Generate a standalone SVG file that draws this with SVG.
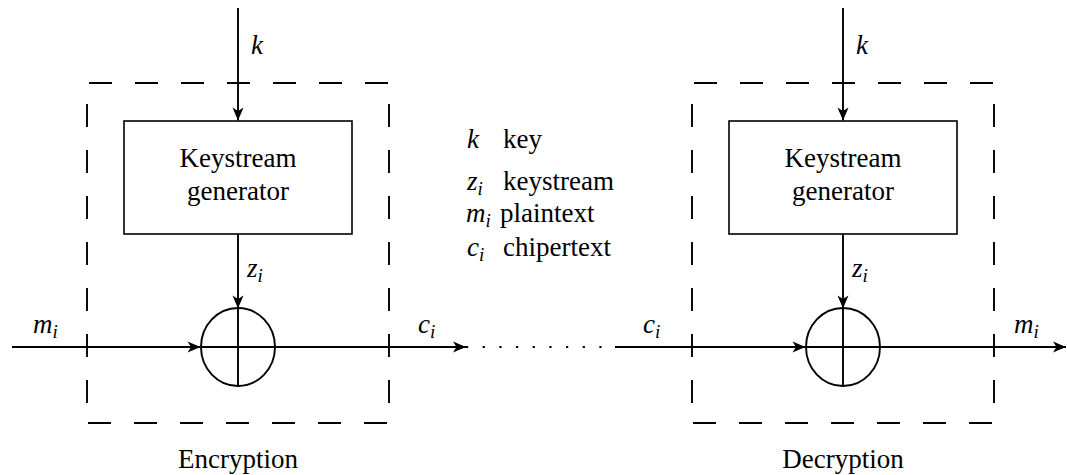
<svg xmlns="http://www.w3.org/2000/svg" width="1067" height="475" viewBox="0 0 1067 475">
<defs>
<marker id="ah" markerUnits="userSpaceOnUse" viewBox="-14 -7 15 14" refX="0" refY="0" markerWidth="15" markerHeight="14" orient="auto">
<path d="M0,0 L-13,-5.5 L-9.5,0 L-13,5.5 Z" fill="#000"/>
</marker>
</defs>
<g id="enc-frame" stroke="#000" stroke-width="1.9" stroke-dasharray="23 23" fill="none">
<line x1="89" y1="83" x2="388" y2="83"/>
<line x1="88" y1="423" x2="387" y2="423"/>
<line x1="87" y1="104" x2="87" y2="403"/>
<line x1="389" y1="104" x2="389" y2="403"/>
</g>
<g id="dec-frame" stroke="#000" stroke-width="1.9" stroke-dasharray="23 23" fill="none">
<line x1="694" y1="83" x2="993" y2="83"/>
<line x1="693" y1="423" x2="992" y2="423"/>
<line x1="692" y1="104" x2="692" y2="403"/>
<line x1="994" y1="104" x2="994" y2="403"/>
</g>
<text id="enc-label" font-family="Liberation Serif" font-size="27" x="238" y="468" text-anchor="middle">Encryption</text>
<text id="dec-label" font-family="Liberation Serif" font-size="27" x="843" y="468" text-anchor="middle">Decryption</text>
<g id="connectors" stroke="#000" stroke-width="1.9" fill="none">
<line x1="238" y1="8" x2="238" y2="120.5" marker-end="url(#ah)"/>
<line x1="238" y1="234" x2="238" y2="308.5" marker-end="url(#ah)"/>
<line x1="12" y1="347" x2="200.5" y2="347" marker-end="url(#ah)"/>
<line x1="275" y1="347" x2="466" y2="347" marker-end="url(#ah)"/>
<line stroke-width="2.2" stroke-dasharray="2.2 14.47" x1="466" y1="347" x2="603" y2="347"/>
<line x1="615" y1="347" x2="805.5" y2="347" marker-end="url(#ah)"/>
<line x1="880" y1="347" x2="1066" y2="347" marker-end="url(#ah)"/>
<line x1="843" y1="8" x2="843" y2="120.5" marker-end="url(#ah)"/>
<line x1="843" y1="234" x2="843" y2="308.5" marker-end="url(#ah)"/>
</g>
<g id="connector-labels">
<text font-family="Liberation Serif" font-size="27" font-style="italic" x="251" y="54">k</text>
<text font-family="Liberation Serif" font-size="27" font-style="italic" x="247" y="277">z<tspan font-size="19" dy="5">i</tspan></text>
<text font-family="Liberation Serif" font-size="27" font-style="italic" x="33" y="333">m<tspan font-size="19" dy="5">i</tspan></text>
<text font-family="Liberation Serif" font-size="27" font-style="italic" x="418" y="333">c<tspan font-size="19" dy="5">i</tspan></text>
<text font-family="Liberation Serif" font-size="27" font-style="italic" x="856" y="54">k</text>
<text font-family="Liberation Serif" font-size="27" font-style="italic" x="852" y="277">z<tspan font-size="19" dy="5">i</tspan></text>
<text font-family="Liberation Serif" font-size="27" font-style="italic" x="643" y="333">c<tspan font-size="19" dy="5">i</tspan></text>
<text font-family="Liberation Serif" font-size="27" font-style="italic" x="1014" y="333">m<tspan font-size="19" dy="5">i</tspan></text>
</g>
<g id="enc-keygen">
<rect x="124" y="121" width="228" height="113" fill="#fff" stroke="#000" stroke-width="1.6"/>
<text font-family="Liberation Serif" font-size="27" x="238" y="167" text-anchor="middle">Keystream</text>
<text font-family="Liberation Serif" font-size="27" x="238" y="200" text-anchor="middle">generator</text>
</g>
<g id="enc-xor" stroke="#000" stroke-width="1.9" fill="none">
<ellipse cx="238" cy="347" rx="37" ry="39"/>
<line x1="238" y1="308" x2="238" y2="386"/>
<line x1="201" y1="347" x2="275" y2="347"/>
</g>
<g id="dec-keygen">
<rect x="729" y="121" width="228" height="113" fill="#fff" stroke="#000" stroke-width="1.6"/>
<text font-family="Liberation Serif" font-size="27" x="843" y="167" text-anchor="middle">Keystream</text>
<text font-family="Liberation Serif" font-size="27" x="843" y="200" text-anchor="middle">generator</text>
</g>
<g id="dec-xor" stroke="#000" stroke-width="1.9" fill="none">
<ellipse cx="843" cy="347" rx="37" ry="39"/>
<line x1="843" y1="308" x2="843" y2="386"/>
<line x1="806" y1="347" x2="880" y2="347"/>
</g>
<g id="legend">
<text font-family="Liberation Serif" font-size="27" font-style="italic" x="467" y="148">k</text>
<text font-family="Liberation Serif" font-size="27" x="503" y="148">key</text>
<text font-family="Liberation Serif" font-size="27" font-style="italic" x="467" y="190">z<tspan font-size="19" dy="5">i</tspan></text>
<text font-family="Liberation Serif" font-size="27" x="503" y="190">keystream</text>
<text font-family="Liberation Serif" font-size="27" font-style="italic" x="466" y="222">m<tspan font-size="19" dy="5">i</tspan></text>
<text font-family="Liberation Serif" font-size="27" x="500" y="222">plaintext</text>
<text font-family="Liberation Serif" font-size="27" font-style="italic" x="467" y="256">c<tspan font-size="19" dy="5">i</tspan></text>
<text font-family="Liberation Serif" font-size="27" x="503" y="256">chipertext</text>
</g>
</svg>
